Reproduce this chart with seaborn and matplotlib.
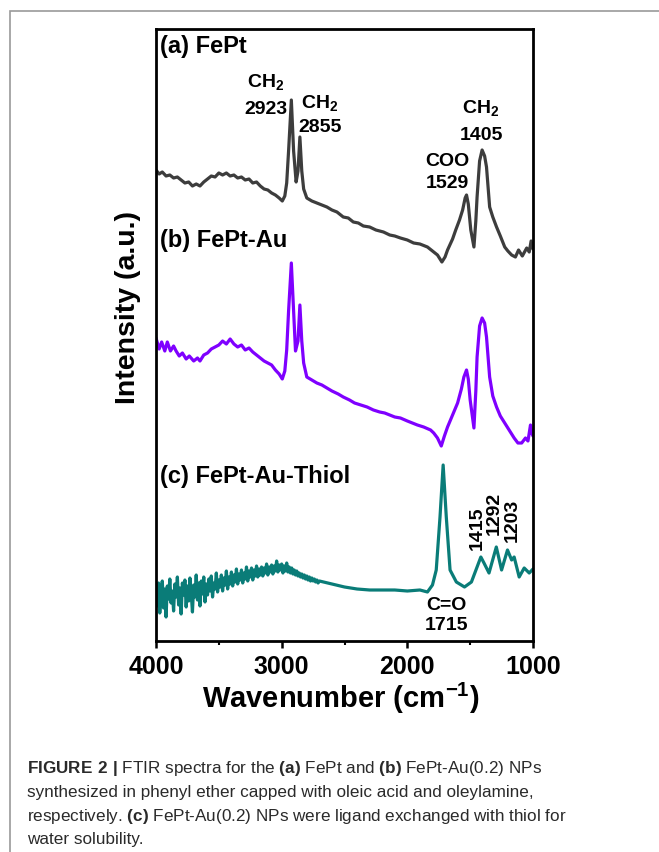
import matplotlib
matplotlib.use('Agg')
import matplotlib.pyplot as plt
from matplotlib.ticker import MultipleLocator
from matplotlib.patches import Rectangle
import seaborn as sns

# (a) FePt - wavenumber (cm-1) and intensity (a.u.)
wn_a = [4000, 3975, 3950, 3920, 3890, 3860, 3830, 3800, 3770, 3740, 3710, 3680, 3650, 3620,
        3590, 3560, 3530, 3500, 3470, 3440, 3410, 3380, 3350, 3320, 3290, 3260, 3230, 3200,
        3170, 3140, 3110, 3080, 3050, 3020, 2995, 2975, 2960, 2945, 2923, 2905, 2885, 2870,
        2855, 2840, 2825, 2800, 2760, 2720, 2680, 2640, 2600, 2560, 2510, 2470, 2430, 2390,
        2350, 2300, 2250, 2190, 2140, 2100, 2055, 2000, 1950, 1900, 1840, 1800, 1760, 1725,
        1700, 1680, 1640, 1615, 1585, 1560, 1540, 1529, 1515, 1495, 1470, 1455, 1445, 1425,
        1405, 1385, 1370, 1345, 1320, 1290, 1260, 1225, 1200, 1170, 1140, 1115, 1085, 1050,
        1030, 1015, 1000]
int_a = [471, 467, 469, 465, 466, 463, 464, 461, 458, 459, 455, 457, 455, 459,
         462, 465, 464, 468, 466, 468, 465, 466, 463, 464, 461, 462, 458, 459,
         455, 452, 451, 448, 446, 443, 440, 445, 458, 490, 541, 490, 459, 470,
         504, 470, 452, 443, 440, 438, 436, 434, 431, 429, 424, 423, 419, 418,
         415, 414, 411, 409, 406, 405, 403, 401, 398, 397, 394, 390, 386, 379,
         384, 391, 402, 411, 421, 431, 443, 446, 437, 411, 394, 420, 444, 480,
         491, 485, 474, 434, 424, 414, 405, 394, 390, 386, 384, 391, 385, 393,
         389, 400, 392]

# (b) FePt-Au
wn_b = [4000, 3975, 3955, 3930, 3910, 3885, 3860, 3840, 3815, 3790, 3760, 3735, 3700, 3670,
        3650, 3620, 3590, 3560, 3530, 3500, 3470, 3440, 3410, 3380, 3350, 3320, 3290, 3260,
        3230, 3200, 3170, 3140, 3110, 3080, 3050, 3020, 2995, 2975, 2960, 2945, 2923, 2905,
        2890, 2870, 2855, 2840, 2825, 2800, 2760, 2720, 2680, 2640, 2600, 2550, 2510, 2460,
        2420, 2370, 2320, 2270, 2220, 2180, 2140, 2100, 2055, 2000, 1960, 1920, 1870, 1815,
        1790, 1760, 1730, 1705, 1680, 1640, 1600, 1570, 1550, 1529, 1515, 1500, 1470, 1455,
        1445, 1425, 1405, 1385, 1370, 1345, 1320, 1290, 1260, 1225, 1190, 1150, 1120, 1090,
        1060, 1040, 1020, 1010, 1000]
int_b = [303, 292, 299, 290, 299, 290, 295, 290, 285, 288, 282, 285, 280, 283,
         280, 286, 288, 292, 294, 296, 300, 297, 302, 297, 294, 296, 291, 293,
         289, 286, 283, 280, 278, 276, 271, 267, 262, 270, 291, 330, 378, 330,
         290, 300, 336, 300, 278, 264, 261, 258, 256, 253, 250, 247, 244, 241,
         238, 236, 234, 231, 229, 228, 226, 224, 223, 220, 218, 216, 214, 211,
         208, 203, 195, 205, 214, 226, 238, 252, 264, 271, 262, 241, 213, 250,
         284, 315, 323, 318, 304, 264, 245, 234, 225, 218, 211, 203, 198, 198,
         203, 200, 216, 208, 205]

# (c) FePt-Au-Thiol (noisy region read every 10 cm-1)
wn_c = [4000, 3990, 3980, 3970, 3960, 3950, 3940, 3930, 3920, 3910, 3900, 3890, 3880, 3870,
        3860, 3850, 3840, 3830, 3820, 3810, 3800, 3790, 3780, 3770, 3760, 3750, 3740, 3730,
        3720, 3710, 3700, 3690, 3680, 3670, 3660, 3650, 3640, 3630, 3620, 3610, 3600,
        3590, 3580, 3570, 3560, 3550, 3540, 3530, 3520, 3510, 3500, 3490, 3480, 3470, 3460,
        3450, 3440, 3430, 3420, 3410, 3400, 3390, 3380, 3370, 3360, 3350, 3340, 3330, 3320,
        3310, 3300, 3290, 3280, 3270, 3260, 3250, 3240, 3230, 3220, 3210, 3200,
        3190, 3180, 3170, 3160, 3150, 3140, 3130, 3120, 3110, 3100, 3090, 3080, 3070, 3060,
        3050, 3040, 3030, 3020, 3010, 3000, 2990, 2980, 2970, 2960, 2950, 2940, 2930, 2920,
        2910, 2900, 2890, 2880, 2870, 2860, 2850, 2840, 2830, 2820, 2810, 2800, 2790, 2780,
        2770, 2760, 2750, 2740, 2730, 2720, 2710, 2700,
        2600, 2500, 2400, 2300, 2200, 2100, 2000, 1900, 1840, 1800, 1770, 1740, 1715, 1690,
        1660, 1610, 1545, 1490, 1415, 1390, 1350, 1292, 1250, 1203, 1170, 1150, 1110, 1070,
        1030, 1000]
int_c = [50, 35, 58, 28, 47, 60, 33, 52, 24, 55, 42, 62, 38, 50,
         30, 57, 44, 64, 36, 53, 27, 58, 46, 61, 34, 55, 40, 63,
         48, 29, 56, 44, 66, 41, 58, 35, 60, 47, 64, 39, 57,
         46, 62, 50, 65, 44, 58, 52, 68, 49, 61, 54, 66, 50, 63,
         56, 70, 52, 64, 57, 69, 55, 66, 59, 72, 57, 67, 61, 71,
         58, 68, 62, 74, 60, 70, 64, 73, 61, 71, 65, 75,
         64, 72, 66, 74, 65, 73, 68, 77, 66, 74, 69, 76, 67, 75,
         70, 80, 69, 76, 71, 77, 68, 75, 70, 78, 69, 74, 68, 73,
         67, 71, 66, 70, 65, 68, 64, 67, 63, 66, 62, 65, 61, 64,
         60, 63, 60, 62, 59, 61, 58, 60,
         57, 54, 52, 51, 51, 51, 50, 51, 49, 56, 71, 124, 176, 124,
         71, 59, 54, 59, 84, 78, 68, 94, 71, 91, 81, 84, 64, 73,
         68, 72]

series = [(wn_a, int_a, '#3d3d3d'), (wn_b, int_b, '#7f00ff'), (wn_c, int_c, '#0a7c78')]

panel_labels = ['(a) FePt', '(b) FePt-Au', '(c) FePt-Au-Thiol']
panel_pos = [(3968, 594), (3968, 401), (3968, 164)]

# peak annotations: (group name, wavenumber text, x, y of name, y of number)
peak_notes = [(r'$\mathbf{CH_2}$', '2923', 3125, 559, 531),
              (r'$\mathbf{CH_2}$', '2855', 2695, 538, 514),
              (r'$\mathbf{CH_2}$', '1405', 1414, 533, 506),
              ('COO', '1529', 1684, 480, 457),
              ('C=O', '1715', 1692, 36, 16)]
rot_notes = [('1415', 1446, 113), ('1292', 1310, 128), ('1203', 1167, 121)]

sns.set_style('ticks')
plt.rcParams['font.family'] = ['Liberation Sans', 'DejaVu Sans']
plt.rcParams['mathtext.fontset'] = 'custom'
plt.rcParams['mathtext.rm'] = 'Liberation Sans'
plt.rcParams['mathtext.bf'] = 'Liberation Sans:bold'
plt.rcParams['text.color'] = 'black'
plt.rcParams['xtick.color'] = 'black'

fig = plt.figure(figsize=(6.59, 8.52), dpi=100)
ax = fig.add_axes([156 / 659, 1 - 641 / 852, 377 / 659, 612 / 852])

for wn, inten, color in series:
    sns.lineplot(x=wn, y=inten, ax=ax, color=color, lw=2.3, estimator=None, sort=False)

ax.set_xlim(4000, 1000)
ax.set_ylim(0, 612)
ax.set_xticks([4000, 3000, 2000, 1000])
ax.xaxis.set_minor_locator(MultipleLocator(500))
ax.set_yticks([])
ax.set_xlabel('')
ax.set_ylabel('')
for s in ax.spines.values():
    s.set_linewidth(2.0)
    s.set_color('black')
ax.tick_params(axis='x', which='major', direction='out', length=5, width=1.8,
               labelsize=18, pad=5, colors='black')
ax.tick_params(axis='x', which='minor', direction='out', length=3, width=1.5)
for lbl in ax.get_xticklabels():
    lbl.set_fontweight('bold')

for txt, (x, y) in zip(panel_labels, panel_pos):
    ax.text(x, y, txt, ha='left', va='center', fontsize=17, fontweight='bold')

for name, num, x, y1, y2 in peak_notes:
    ax.text(x, y1, name, ha='center', va='center', fontsize=14, fontweight='bold')
    ax.text(x, y2, num, ha='center', va='center', fontsize=14, fontweight='bold')
for num, x, y in rot_notes:
    ax.text(x, y, num, ha='center', va='center', rotation=90, fontsize=14, fontweight='bold')

fig.text(128 / 659, 1 - 308 / 852, 'Intensity (a.u.)', rotation=90, ha='center', va='center',
         fontsize=20.5, fontweight='bold')
fig.text(341 / 659, 1 - 698 / 852, r'Wavenumber (cm$^{\mathbf{-1}}$)', ha='center', va='center',
         fontsize=21, fontweight='bold')

# caption
caption = [r'$\mathbf{FIGURE\ 2\ |}$ FTIR spectra for the $\mathbf{(a)}$ FePt and $\mathbf{(b)}$ FePt-Au(0.2) NPs',
           'synthesized in phenyl ether capped with oleic acid and oleylamine,',
           r'respectively. $\mathbf{(c)}$ FePt-Au(0.2) NPs were ligand exchanged with thiol for',
           'water solubility.']
for i, line in enumerate(caption):
    fig.text(27 / 659, 1 - (769 + 23.5 * i) / 852, line, ha='left', va='center',
             fontsize=12.3, color='#2a2a2a')

fig.add_artist(Rectangle((10 / 659, -0.1), 2, 1.1 - 11 / 852, transform=fig.transFigure,
                         fill=False, ec='#9a9a9a', lw=1.2))

fig.savefig('out.png', dpi=100)
